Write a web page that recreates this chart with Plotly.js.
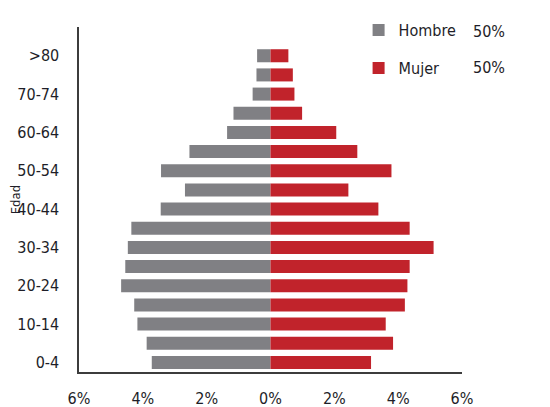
<!DOCTYPE html>
<html>
<head>
<meta charset="utf-8">
<script src="https://cdn.plot.ly/plotly-3.0.1.min.js"></script>
<style>html,body{margin:0;padding:0;background:#fff;}#chart{width:550px;height:407px;}</style>
</head>
<body>
<div id="chart"></div>
<script>
// Age groups, bottom to top
const ageGroups = ['0-4','5-9','10-14','15-19','20-24','25-29','30-34','35-39','40-44','45-49','50-54','55-59','60-64','65-69','70-74','75-79','>80'];
// Percent of total population
const hombre = [3.72, 3.88, 4.17, 4.27, 4.68, 4.55, 4.47, 4.36, 3.44, 2.68, 3.43, 2.54, 1.36, 1.16, 0.56, 0.44, 0.42];
const mujer  = [3.15, 3.84, 3.61, 4.21, 4.29, 4.36, 5.11, 4.36, 3.38, 2.44, 3.79, 2.72, 2.06, 0.99, 0.75, 0.70, 0.56];
const seriesNames = ['Hombre', 'Mujer'];
const seriesShares = ['50%', '50%'];
const xTickVals = [-6, -4, -2, 0, 2, 4, 6];
const xTickText = ['6%', '4%', '2%', '0%', '2%', '4%', '6%'];
const yTickLabels = ageGroups.filter((g, i) => i % 2 === 0);

const GRAY = '#808084';
const RED = '#c1232b';
const FONT = 'DejaVu Sans Condensed, Liberation Sans Narrow, sans-serif';
const TXT = '#1e1e28';

const traces = [
  {
    type: 'bar', orientation: 'h', name: seriesNames[0], legendgroup: 'h',
    y: ageGroups, x: hombre.map(v => -v),
    marker: {color: GRAY}, hoverinfo: 'skip'
  },
  {
    type: 'bar', orientation: 'h', name: seriesNames[1], legendgroup: 'm',
    y: ageGroups, x: mujer,
    marker: {color: RED}, hoverinfo: 'skip'
  }
];

const layout = {
  width: 550, height: 407,
  margin: {l: 79, r: 88, t: 27, b: 35},
  paper_bgcolor: '#ffffff', plot_bgcolor: '#ffffff',
  barmode: 'relative', bargap: 0.32,
  font: {family: FONT, size: 16, color: TXT},
  showlegend: true,
  legend: {
    x: 0.73, xanchor: 'left', y: 1.04, yanchor: 'top',
    bgcolor: 'rgba(0,0,0,0)', font: {family: FONT, size: 16, color: TXT},
    tracegroupgap: 14, traceorder: 'grouped'
  },
  xaxis: {
    range: [-6, 6], tickmode: 'array', tickvals: xTickVals, ticktext: xTickText,
    showgrid: false, zeroline: false, showline: true, linecolor: '#3c3c3c', linewidth: 1.6,
    ticks: '', ticklabelstandoff: 11, fixedrange: true,
    tickfont: {family: FONT, size: 16, color: TXT}
  },
  yaxis: {
    type: 'category', range: [-0.5, 17.5], tickmode: 'array', tickvals: yTickLabels, ticktext: yTickLabels,
    showgrid: false, zeroline: false, showline: true, linecolor: '#3c3c3c', linewidth: 1.6,
    ticks: '', ticklabelstandoff: 15, fixedrange: true,
    tickfont: {family: FONT, size: 16, color: TXT}
  },
  annotations: [
    {
      xref: 'paper', yref: 'paper', x: -0.165, y: 0.5, xanchor: 'center', yanchor: 'middle',
      text: 'Edad', textangle: -90, showarrow: false,
      font: {family: FONT, size: 13, color: TXT}
    }
  ].concat(seriesShares.map((s, i) => ({
    xref: 'paper', yref: 'paper', x: 1.024, y: i === 0 ? 0.988 : 0.884,
    xanchor: 'left', yanchor: 'middle', text: s, showarrow: false,
    font: {family: FONT, size: 16, color: TXT}
  })))
};

Plotly.newPlot('chart', traces, layout, {displayModeBar: false, staticPlot: true});
</script>
</body>
</html>
